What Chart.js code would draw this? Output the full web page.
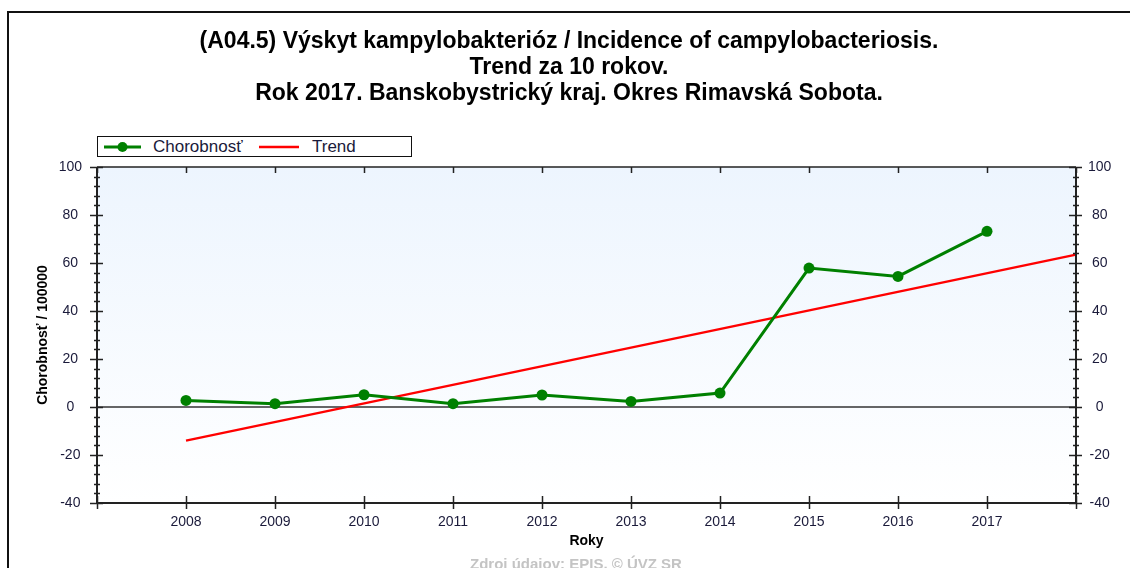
<!DOCTYPE html>
<html>
<head>
<meta charset="utf-8">
<script src="https://cdn.jsdelivr.net/npm/chart.js@4/dist/chart.umd.min.js"></script>
<style>
    body { margin: 0; background: #fff; overflow: hidden; }
    #wrap { position: relative; width: 1130px; height: 568px; overflow: hidden; font-family: "Liberation Sans", Arial, sans-serif; }
    #frame { position: absolute; left: 7px; top: 11px; width: 1140px; height: 600px; border: 2px solid #111; }
    #chart { position: absolute; left: 0; top: 0; }
    #title { position: absolute; left: 4px; top: 27px; width: 1130px; text-align: center; font-weight: bold; font-size: 23px; line-height: 26px; color: #000; }
    #legend { position: absolute; left: 97px; top: 136px; width: 313px; height: 19px; border: 1.5px solid #111; background: #fff; }
    #legend .item { position: absolute; top: 0; height: 19px; line-height: 19px; font-size: 17px; color: #1a1a3a; }
    #legend svg { position: absolute; top: 0; }
    #footer { position: absolute; left: 0; top: 556px; width: 1152px; text-align: center; font-weight: bold; font-size: 15px; line-height: 16px; color: #c4c4c4; }
</style>
</head>
<body>
<div id="wrap">
    <div id="frame"></div>
    <canvas id="chart" width="1130" height="568"></canvas>
    <div id="title">(A04.5) Výskyt kampylobakterióz / Incidence of campylobacteriosis.<br>Trend za 10 rokov.<br>Rok 2017. Banskobystrický kraj. Okres Rimavská Sobota.</div>
    <div id="legend"></div>
    <div id="footer">Zdroj údajov: EPIS, © ÚVZ SR</div>
</div>
<script>
const years = [2008, 2009, 2010, 2011, 2012, 2013, 2014, 2015, 2016, 2017];
const chorobnost = [2.75, 1.4, 5.1, 1.4, 5.0, 2.3, 5.8, 57.9, 54.4, 73.2];
const trendYears = [2008, 2018];
const trendValues = [-14.0, 63.5];
const yTicks = [-40, -20, 0, 20, 40, 60, 80, 100];

const tickColor = '#1a1a3a';
const axisColor = '#222';

// ticks crossing the frame, minor ticks every 4 units on both y axes
const axisDecor = {
    id: 'axisDecor',
    beforeDraw(chart) {
        const { ctx, chartArea: a } = chart;
        const g = ctx.createLinearGradient(0, a.top, 0, a.bottom);
        g.addColorStop(0, '#edf5fe');
        g.addColorStop(1, '#ffffff');
        ctx.save();
        ctx.fillStyle = g;
        ctx.fillRect(a.left, a.top, a.right - a.left, a.bottom - a.top);
        ctx.restore();
    },
    beforeDatasetsDraw(chart) {
        const { ctx, chartArea: a, scales } = chart;
        const y0 = scales.y.getPixelForValue(0);
        ctx.save();
        ctx.strokeStyle = '#333';
        ctx.lineWidth = 1.5;
        ctx.beginPath();
        ctx.moveTo(a.left, y0);
        ctx.lineTo(a.right, y0);
        ctx.stroke();
        ctx.restore();
    },
    afterDatasetsDraw(chart) {
        const { ctx, chartArea: a, scales } = chart;
        const x = scales.x, y = scales.y;
        ctx.save();
        ctx.strokeStyle = axisColor;
        ctx.lineWidth = 2;
        ctx.beginPath();
        ctx.moveTo(a.left, a.bottom);
        ctx.lineTo(a.right, a.bottom);
        ctx.moveTo(a.left, a.top);
        ctx.lineTo(a.left, a.bottom);
        ctx.moveTo(a.right, a.top);
        ctx.lineTo(a.right, a.bottom);
        ctx.stroke();
        ctx.lineWidth = 1.5;
        ctx.beginPath();
        ctx.moveTo(a.left, a.top);
        ctx.lineTo(a.right, a.top);
        ctx.stroke();

        ctx.lineWidth = 1.5;
        ctx.beginPath();
        const xs = [x.min].concat(years, [x.max]);
        xs.forEach(v => {
            const px = Math.round(x.getPixelForValue(v)) + 0.5;
            ctx.moveTo(px, a.bottom - 7);
            ctx.lineTo(px, a.bottom + 6);
            ctx.moveTo(px, a.top);
            ctx.lineTo(px, a.top + 6);
        });
        for (let v = y.min; v <= y.max; v += 4) {
            const py = Math.round(y.getPixelForValue(v)) + 0.5;
            const major = yTicks.includes(v);
            if (major) {
                ctx.moveTo(a.left - 7, py);
                ctx.lineTo(a.left + 6, py);
                ctx.moveTo(a.right - 7, py);
                ctx.lineTo(a.right + 6, py);
            } else {
                ctx.moveTo(a.left - 3, py);
                ctx.lineTo(a.left + 3, py);
                ctx.moveTo(a.right - 3, py);
                ctx.lineTo(a.right + 3, py);
            }
        }
        ctx.stroke();
        ctx.restore();
    }
};

function yAxis(position, pad, width) {
    return {
        type: 'linear',
        position: position,
        min: -40,
        max: 100,
        grid: { display: false },
        border: { display: false },
        afterBuildTicks: s => { s.ticks = yTicks.map(v => ({ value: v })); },
        afterFit: s => { s.width = width; },
        ticks: {
            padding: pad,
            crossAlign: 'center',
            color: tickColor,
            font: { family: '"Liberation Sans", Arial, sans-serif', size: 14 }
        }
    };
}

const leftAxis = yAxis('left', 7, 97);
leftAxis.title = {
    display: true,
    text: 'Chorobnosť / 100000',
    color: '#000',
    padding: { top: 35, bottom: 0 },
    font: { family: '"Liberation Sans", Arial, sans-serif', size: 14, weight: 'bold' }
};
const rightAxis = yAxis('right', 4, 54);

const chart = new Chart(document.getElementById('chart'), {
    type: 'line',
    data: {
        datasets: [{
            label: 'Chorobnosť',
            data: years.map((yr, i) => ({ x: yr, y: chorobnost[i] })),
            borderColor: '#008000',
            backgroundColor: '#008000',
            borderWidth: 3,
            pointRadius: 5.5,
            pointBorderWidth: 0,
            pointBackgroundColor: '#008000',
            tension: 0,
            order: 1
        }, {
            label: 'Trend',
            data: trendYears.map((yr, i) => ({ x: yr, y: trendValues[i] })),
            borderColor: '#ff0000',
            backgroundColor: '#ff0000',
            borderWidth: 2.5,
            pointRadius: 0,
            tension: 0,
            order: 2
        }]
    },
    options: {
        responsive: false,
        devicePixelRatio: 1,
        animation: false,
        clip: false,
        layout: { padding: { top: 167, left: 0, right: 0, bottom: 0 } },
        scales: {
            x: {
                type: 'linear',
                min: 2007,
                max: 2018,
                grid: { display: false },
                border: { display: false },
                afterBuildTicks: s => { s.ticks = years.map(v => ({ value: v })); },
                afterFit: s => { s.height = 65; },
                ticks: {
                    padding: 3,
                    autoSkip: false,
                    maxRotation: 0,
                    color: tickColor,
                    font: { family: '"Liberation Sans", Arial, sans-serif', size: 14 },
                    callback: v => String(v)
                },
                title: {
                    display: true,
                    text: 'Roky',
                    color: '#000',
                    padding: { top: 0, bottom: 18 },
                    font: { family: '"Liberation Sans", Arial, sans-serif', size: 14, weight: 'bold' }
                }
            },
            y: leftAxis,
            y2: rightAxis
        },
        plugins: {
            legend: { display: false },
            title: { display: false },
            tooltip: { enabled: false }
        }
    },
    plugins: [axisDecor]
});

// legend built from the datasets
const legend = document.getElementById('legend');
const items = [
    { ds: chart.data.datasets[0], lineX: 6, lineW: 37, textX: 55, dot: true },
    { ds: chart.data.datasets[1], lineX: 161, lineW: 40, textX: 214, dot: false }
];
items.forEach(it => {
    const svg = `<svg style="left:${it.lineX}px" width="${it.lineW}" height="19">
        <line x1="0" y1="10" x2="${it.lineW}" y2="10" stroke="${it.ds.borderColor}" stroke-width="${it.ds.borderWidth}"/>
        ${it.dot ? `<circle cx="${it.lineW / 2}" cy="10" r="5" fill="${it.ds.borderColor}"/>` : ''}
    </svg>`;
    legend.insertAdjacentHTML('beforeend', svg + `<div class="item" style="left:${it.textX}px">${it.ds.label}</div>`);
});
</script>
</body>
</html>
